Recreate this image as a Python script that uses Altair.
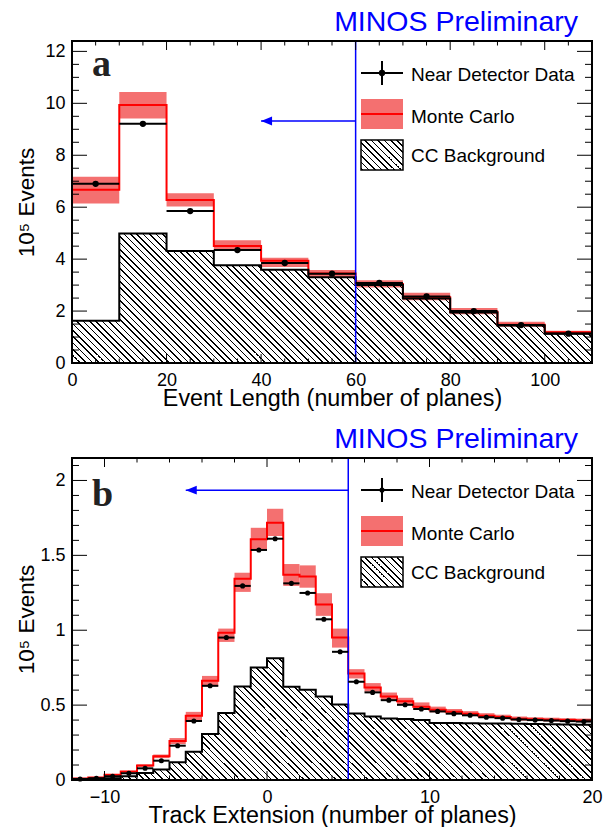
import altair as alt
import pandas as pd

FONT = "Liberation Sans"
BAND = "#f47070"
BLUE = "#0000ff"

# ---------------- Panel a: Event Length ----------------
a_edges = [0, 10, 20, 30, 40, 50, 60, 70, 80, 90, 100, 110]
a_data  = [6.90, 9.21, 5.85, 4.35, 3.85, 3.44, 3.08, 2.56, 2.00, 1.46, 1.13]
a_mc    = [6.67, 9.94, 6.28, 4.51, 3.94, 3.45, 3.04, 2.53, 1.97, 1.47, 1.18]
a_mc_lo = [6.14, 9.42, 6.03, 4.36, 3.70, 3.30, 2.91, 2.42, 1.88, 1.40, 1.11]
a_mc_hi = [7.17, 10.44, 6.54, 4.73, 4.05, 3.58, 3.19, 2.71, 2.12, 1.59, 1.24]
a_bg    = [1.63, 4.99, 4.31, 3.76, 3.59, 3.30, 3.00, 2.48, 1.94, 1.44, 1.14]
a_xdomain = [0, 110]
a_ydomain = [0, 12.4]
a_xticks = [0, 20, 40, 60, 80, 100]
a_yticks = [0, 2, 4, 6, 8, 10, 12]
a_xminor = [v for v in range(5, 110, 5) if v % 20]
a_yminor = [i * 0.5 for i in range(1, 25) if i % 4]
a_cut, a_arrow_to, a_arrow_y = 60, 40, 9.32

# ---------------- Panel b: Track Extension ----------------
b_edges = list(range(-12, 21))
b_data = [0.007, 0.012, 0.025, 0.045, 0.078, 0.129, 0.229, 0.394, 0.629, 0.951,
          1.296, 1.536, 1.611, 1.313, 1.249, 1.073, 0.856, 0.656, 0.585, 0.533,
          0.502, 0.474, 0.458, 0.443, 0.432, 0.419, 0.413, 0.404, 0.400, 0.397,
          0.393, 0.390]
b_mc = [0.010, 0.016, 0.035, 0.056, 0.096, 0.158, 0.260, 0.429, 0.662, 0.984,
        1.344, 1.607, 1.718, 1.371, 1.358, 1.171, 0.951, 0.711, 0.618, 0.558,
        0.525, 0.489, 0.469, 0.455, 0.442, 0.429, 0.420, 0.409, 0.405, 0.402,
        0.400, 0.398]
b_mc_lo = [0.008, 0.014, 0.031, 0.051, 0.088, 0.146, 0.240, 0.400, 0.625, 0.922,
           1.256, 1.536, 1.629, 1.296, 1.284, 1.096, 0.884, 0.678, 0.590, 0.535,
           0.505, 0.470, 0.452, 0.440, 0.428, 0.416, 0.408, 0.397, 0.394, 0.391,
           0.389, 0.387]
b_mc_hi = [0.012, 0.019, 0.039, 0.061, 0.104, 0.170, 0.280, 0.455, 0.695, 1.011,
           1.384, 1.684, 1.811, 1.442, 1.433, 1.247, 1.011, 0.740, 0.647, 0.584,
           0.549, 0.518, 0.490, 0.474, 0.460, 0.446, 0.436, 0.424, 0.419, 0.416,
           0.413, 0.410]
b_bg = [0.004, 0.006, 0.012, 0.025, 0.047, 0.070, 0.118, 0.189, 0.307, 0.447,
        0.624, 0.751, 0.813, 0.622, 0.602, 0.558, 0.504, 0.444, 0.424, 0.411,
        0.407, 0.400, 0.381, 0.380, 0.379, 0.378, 0.377, 0.376, 0.374, 0.372,
        0.371, 0.369]
b_xdomain = [-12, 20]
b_ydomain = [0, 2.15]
b_xticks = [-10, 0, 10, 20]
b_yticks = [0, 0.5, 1, 1.5, 2]
b_xminor = [v for v in range(-10, 20, 2) if v % 10]
b_yminor = [round(i * 0.1, 1) for i in range(1, 22) if i % 5]
b_cut, b_arrow_to, b_arrow_y = 5, -5, 1.935

legend_labels = ["Near Detector Data", "Monte Carlo", "CC Background"]
W = 520


def hatch(w, h, step=6.4, lw=1.6):
    """Diagonal '\\' hatching as a linear gradient over a w x h bounding box."""
    s = w + h
    stops = []
    k = 0
    while True:
        a = (k * step + 1.0) / s
        if a >= 1:
            break
        b = min((k * step + 1.0 + lw) / s, 1.0)
        stops += [(a, "rgba(0,0,0,0)"), (a, "black"), (b, "black"), (b, "rgba(0,0,0,0)")]
        k += 1
    c = (w + h) / (w * w + h * h)
    return alt.Gradient(
        gradient="linear",
        stops=[alt.GradientStop(offset=o, color=col) for o, col in stops],
        x1=0, y1=1, x2=w * c, y2=1 - h * c,
    )


def steps(edges, vals):
    xs, ys = [edges[0]], [0]
    for i, v in enumerate(vals):
        xs += [edges[i], edges[i + 1]]
        ys += [v, v]
    xs.append(edges[-1])
    ys.append(0)
    return pd.DataFrame({"x": xs, "y": ys, "o": list(range(len(xs)))})


def panel(edges, data, mc, lo, hi, bg, xdom, ydom, xmaj, ymaj, xmin, ymin,
          xtitle, cut, arrow_to, arrow_y, letter, letter_y, dot, H):
    xs = alt.Scale(domain=xdom, nice=False, zero=False)
    ys = alt.Scale(domain=ydom, nice=False, zero=False)
    xax = alt.Axis(values=xmaj, format="d", ticks=False, tickSize=0, domain=False, grid=False,
                   labelFont=FONT, labelFontSize=18, labelColor="black", labelPadding=22,
                   labelBaseline="alphabetic", labelFlush=False, labelOverlap=False, labelBound=False,
                   titleFont=FONT, titleFontSize=23.3, titleFontWeight="normal", titleColor="black",
                   titleY=42.5, titleBaseline="alphabetic")
    yax = alt.Axis(values=ymaj, format="~g", ticks=False, tickSize=0, domain=False, grid=False,
                   labelFont=FONT, labelFontSize=18, labelColor="black", labelPadding=7,
                   labelOverlap=False, labelFlush=False, labelBound=False,
                   titleFont=FONT, titleFontSize=22.5, titleFontWeight="normal", titleColor="black",
                   titleX=-39, titleY=H / 2, titleBaseline="alphabetic", titleAlign="center")

    def X(f):
        return alt.X(f, type="quantitative", scale=xs, axis=xax, title=xtitle)

    def Y(f):
        return alt.Y(f, type="quantitative", scale=ys, axis=yax, title="10⁵ Events")

    df = pd.DataFrame({"lo": edges[:-1], "hi": edges[1:],
                       "mid": [(a + b) / 2 for a, b in zip(edges[:-1], edges[1:])],
                       "data": data, "mlo": lo, "mhi": hi})
    area_df = pd.DataFrame({"x": edges, "y": list(bg) + [bg[-1]]})
    hb = max(bg) / ydom[1] * H
    cut_df = pd.DataFrame({"cut": [cut], "to": [arrow_to], "ay": [arrow_y]})
    one = pd.DataFrame({"k": [0]})

    layers = [
        alt.Chart(df).mark_rect(color=BAND).encode(x=X("lo"), x2="hi", y=Y("mlo"), y2="mhi"),
        alt.Chart(area_df).mark_area(interpolate="step-after", fill=hatch(W, hb), fillOpacity=1)
        .encode(x=X("x"), y=Y("y")),
        alt.Chart(steps(edges, mc)).mark_line(color="red", strokeWidth=2)
        .encode(x=X("x"), y=Y("y"), order="o:Q"),
        alt.Chart(steps(edges, bg)).mark_line(color="black", strokeWidth=2)
        .encode(x=X("x"), y=Y("y"), order="o:Q"),
        alt.Chart(cut_df).mark_rule(color=BLUE, strokeWidth=1.5)
        .encode(x=X("cut"), y=alt.value(0), y2=alt.value(H)),
        alt.Chart(cut_df).mark_rule(color=BLUE, strokeWidth=1.5)
        .encode(x=X("cut"), x2="to", y=Y("ay")),
        alt.Chart(cut_df).mark_point(shape="M 0 0 L 2 -0.8 L 2 0.8 Z", filled=True, size=121,
                                     color=BLUE, opacity=1)
        .encode(x=X("to"), y=Y("ay")),
        alt.Chart(df).mark_rule(color="black", strokeWidth=2).encode(x=X("lo"), x2="hi", y=Y("data")),
        alt.Chart(df).mark_circle(color="black", size=dot, opacity=1).encode(x=X("mid"), y=Y("data")),
    ]
    # inward ticks (ROOT style)
    for vals, ln in ((ymaj, 15), (ymin, 7)):
        t = pd.DataFrame({"v": vals})
        layers.append(alt.Chart(t).mark_rule(color="black", strokeWidth=1)
                      .encode(y=Y("v"), x=alt.value(0), x2=alt.value(ln)))
        layers.append(alt.Chart(t).mark_rule(color="black", strokeWidth=1)
                      .encode(y=Y("v"), x=alt.value(W - ln), x2=alt.value(W)))
    for vals, ln in ((xmaj, 9), (xmin, 4.5)):
        t = pd.DataFrame({"v": vals})
        layers.append(alt.Chart(t).mark_rule(color="black", strokeWidth=1)
                      .encode(x=X("v"), y=alt.value(H), y2=alt.value(H - ln)))
        layers.append(alt.Chart(t).mark_rule(color="black", strokeWidth=1)
                      .encode(x=X("v"), y=alt.value(0), y2=alt.value(ln)))
    # legend
    layers += [
        alt.Chart(one).mark_rule(color="black", strokeWidth=2)
        .encode(x=alt.value(289), x2=alt.value(331), y=alt.value(32)),
        alt.Chart(one).mark_rule(color="black", strokeWidth=2)
        .encode(x=alt.value(310), y=alt.value(20), y2=alt.value(44)),
        alt.Chart(one).mark_circle(color="black", size=dot, opacity=1)
        .encode(x=alt.value(310), y=alt.value(32)),
        alt.Chart(one).mark_rect(color=BAND)
        .encode(x=alt.value(289), x2=alt.value(331), y=alt.value(58), y2=alt.value(88)),
        alt.Chart(one).mark_rule(color="red", strokeWidth=2)
        .encode(x=alt.value(289), x2=alt.value(331), y=alt.value(73)),
        alt.Chart(one).mark_rect(fill=hatch(42, 30), stroke="black", strokeWidth=1.5)
        .encode(x=alt.value(289), x2=alt.value(331), y=alt.value(99), y2=alt.value(129)),
    ]
    for lab, yy in zip(legend_labels, (39.5, 81.5, 120.5)):
        layers.append(alt.Chart(one).mark_text(font=FONT, fontSize=19, color="black",
                                               align="left", baseline="alphabetic")
                      .encode(x=alt.value(339), y=alt.value(yy), text=alt.value(lab)))
    layers += [
        alt.Chart(one).mark_text(font="Liberation Serif", fontWeight="bold", fontSize=38,
                                 color="#222222", align="left", baseline="alphabetic")
        .encode(x=alt.value(20), y=alt.value(letter_y), text=alt.value(letter)),
        alt.Chart(one).mark_text(font=FONT, fontSize=28.5, color=BLUE, align="right",
                                 baseline="alphabetic")
        .encode(x=alt.value(506), y=alt.value(-10), text=alt.value("MINOS Preliminary")),
        alt.Chart(one).mark_rect(filled=False, stroke="black", strokeWidth=2)
        .encode(x=alt.value(0), x2=alt.value(W), y=alt.value(0), y2=alt.value(H)),
    ]
    return alt.layer(*layers).properties(width=W, height=H)


top = panel(a_edges, a_data, a_mc, a_mc_lo, a_mc_hi, a_bg, a_xdomain, a_ydomain,
            a_xticks, a_yticks, a_xminor, a_yminor, "Event Length (number of planes)",
            a_cut, a_arrow_to, a_arrow_y, "a", 35, 40, 322)
bottom = panel(b_edges, b_data, b_mc, b_mc_lo, b_mc_hi, b_bg, b_xdomain, b_ydomain,
               b_xticks, b_yticks, b_xminor, b_yminor, "Track Extension (number of planes)",
               b_cut, b_arrow_to, b_arrow_y, "b", 48, 26, 322)

chart = (
    alt.vconcat(top, bottom, spacing=95, bounds="flush")
    .properties(padding={"left": 15, "top": 8, "right": 0, "bottom": 0})
    .configure_view(strokeWidth=0)
)

chart.save("out.html", embed_options={"renderer": "svg", "actions": False})
